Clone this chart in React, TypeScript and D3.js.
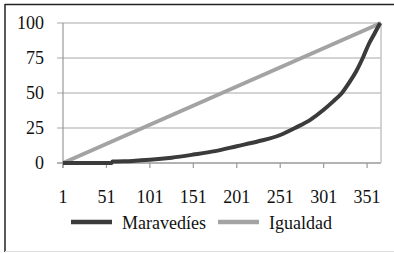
import React, { useEffect, useRef } from 'react';
import * as d3 from 'd3';

// Maravedíes (Lorenz curve): [day, cumulative %]
const maravediesDays = [1, 57, 58, 81, 101, 126, 151, 176, 201, 226, 251, 268, 286, 301, 312, 322, 331, 338, 346, 353, 360, 366];
const maravediesValues = [0, 0, 1, 1.5, 2.3, 3.8, 6, 8.5, 12, 15.5, 20, 25, 31, 38, 44, 50, 58, 65, 75, 85, 93, 100];
const igualdadDays = [1, 367];
const igualdadValues = [0, 100];
const xTicks = [1, 51, 101, 151, 201, 251, 301, 351];
const yTicks = [0, 25, 50, 75, 100];
const seriesNames = ['Maravedíes', 'Igualdad'];

const App: React.FC = () => {
    const svgRef = useRef<SVGSVGElement | null>(null);

    useEffect(() => {
        if (!svgRef.current) return;
        const svg = d3.select(svgRef.current);
        svg.selectAll('*').remove();

        const font = '"Times New Roman", Times, "Liberation Serif", "DejaVu Serif", "Noto Serif", serif';
        const x = d3.scaleLinear().domain([1, 367]).range([63, 381]);
        const y = d3.scaleLinear().domain([0, 100]).range([163, 23]);

        svg.append('rect').attr('width', 394).attr('height', 253).style('fill', 'white');

        // frame
        svg.append('line').attr('x1', 5).attr('x2', 394).attr('y1', 4.5).attr('y2', 4.5)
            .style('stroke', '#222').style('stroke-width', 1.5);
        svg.append('line').attr('x1', 5).attr('x2', 5).attr('y1', 4).attr('y2', 252)
            .style('stroke', '#222').style('stroke-width', 1.5);
        svg.append('line').attr('x1', 5).attr('x2', 394).attr('y1', 251.5).attr('y2', 251.5)
            .style('stroke', '#ddd').style('stroke-width', 1);

        // gridlines
        svg.selectAll('line.grid')
            .data(yTicks)
            .enter()
            .append('line')
            .attr('class', 'grid')
            .attr('x1', 57)
            .attr('x2', x(367))
            .attr('y1', (d) => y(d))
            .attr('y2', (d) => y(d))
            .style('stroke', (d) => (d === 0 ? '#999' : '#c4c4c4'))
            .style('stroke-width', 1.5);

        // axis lines
        svg.append('line').attr('x1', x(1)).attr('x2', x(1)).attr('y1', y(100)).attr('y2', y(0) + 5)
            .style('stroke', '#999').style('stroke-width', 1.2);
        svg.append('line').attr('x1', x(367)).attr('x2', x(367)).attr('y1', y(100)).attr('y2', y(0))
            .style('stroke', '#c4c4c4').style('stroke-width', 1.5);

        svg.selectAll('line.xtick')
            .data(xTicks)
            .enter()
            .append('line')
            .attr('class', 'xtick')
            .attr('x1', (d) => x(d))
            .attr('x2', (d) => x(d))
            .attr('y1', y(0))
            .attr('y2', y(0) + 5)
            .style('stroke', '#999')
            .style('stroke-width', 1.2);

        svg.selectAll('text.ylabel')
            .data(yTicks)
            .enter()
            .append('text')
            .attr('class', 'ylabel')
            .attr('x', 44)
            .attr('y', (d) => y(d))
            .attr('dy', '0.35em')
            .attr('text-anchor', 'end')
            .style('font-family', font)
            .style('font-size', '18px')
            .style('fill', '#111')
            .text((d) => d);

        svg.selectAll('text.xlabel')
            .data(xTicks)
            .enter()
            .append('text')
            .attr('class', 'xlabel')
            .attr('x', (d) => x(d))
            .attr('y', 197)
            .attr('dy', '0.35em')
            .attr('text-anchor', 'middle')
            .style('font-family', font)
            .style('font-size', '18px')
            .style('fill', '#111')
            .text((d) => d);

        const line = d3.line<[number, number]>()
            .x((d) => x(d[0]))
            .y((d) => y(d[1]))
            .curve(d3.curveMonotoneX);

        svg.append('path')
            .datum(igualdadDays.map((d, i) => [d, igualdadValues[i]] as [number, number]))
            .attr('d', d3.line<[number, number]>().x((d) => x(d[0])).y((d) => y(d[1])))
            .style('fill', 'none')
            .style('stroke', '#a3a3a3')
            .style('stroke-width', 4);

        svg.append('path')
            .datum(maravediesDays.map((d, i) => [d, maravediesValues[i]] as [number, number]))
            .attr('d', line)
            .style('fill', 'none')
            .style('stroke', '#3b3b3b')
            .style('stroke-width', 4);

        // legend
        const legend = [
            { name: seriesNames[0], color: '#3b3b3b', x: 71 },
            { name: seriesNames[1], color: '#a3a3a3', x: 218 },
        ];
        const lg = svg.selectAll('g.legend').data(legend).enter().append('g').attr('class', 'legend');
        lg.append('line')
            .attr('x1', (d) => d.x)
            .attr('x2', (d) => d.x + 41)
            .attr('y1', 222)
            .attr('y2', 222)
            .style('stroke', (d) => d.color)
            .style('stroke-width', 4.5);
        lg.append('text')
            .attr('x', (d) => d.x + 51)
            .attr('y', 223)
            .attr('dy', '0.35em')
            .style('font-family', font)
            .style('font-size', '18px')
            .style('fill', '#111')
            .text((d) => d.name);
    }, []);

    return (
        <svg ref={svgRef} width={394} height={253} style={{ position: 'absolute', left: 0, top: 0 }} />
    );
};

export default App;
